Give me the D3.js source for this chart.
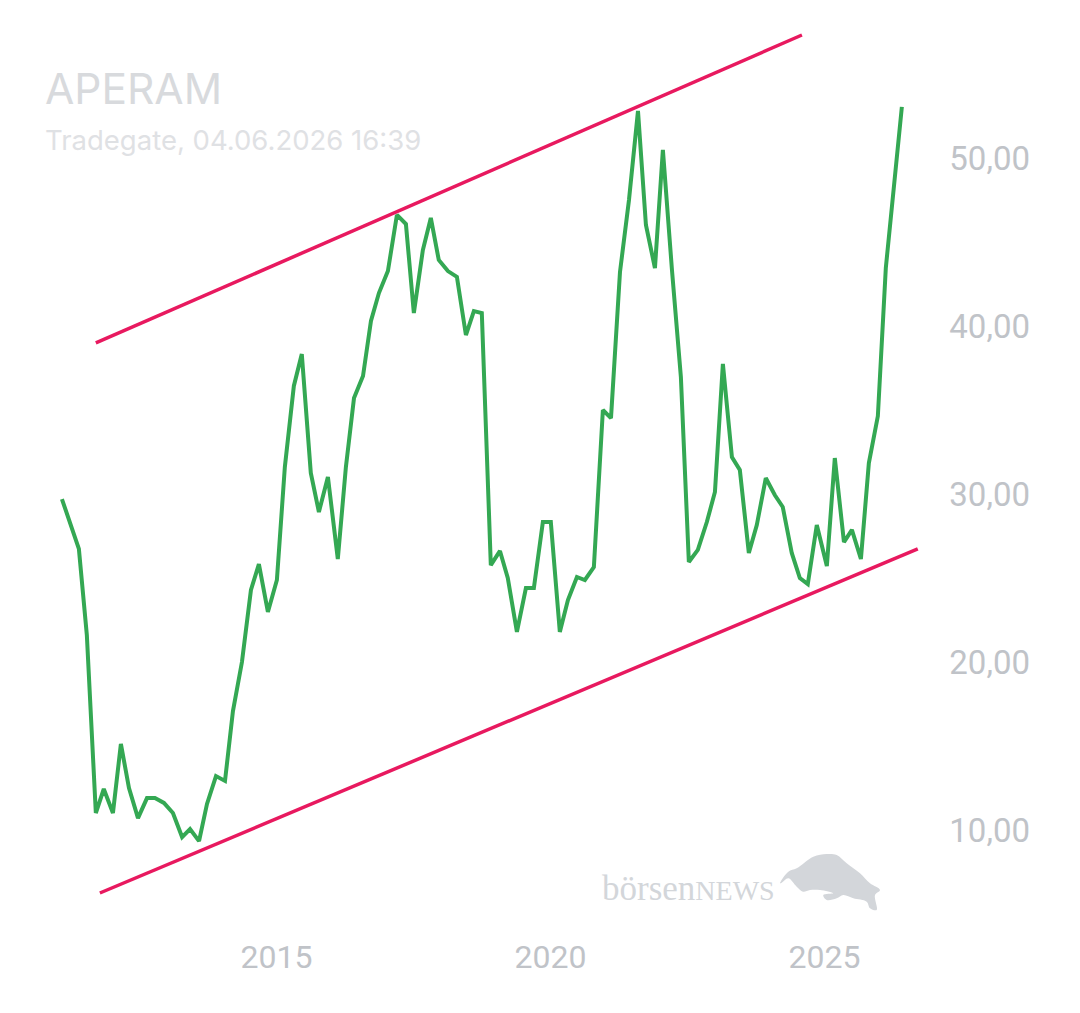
<!DOCTYPE html>
<html>
<head>
<meta charset="utf-8">
<script src="https://cdn.jsdelivr.net/npm/d3@7"></script>
<style>
  html, body { margin: 0; padding: 0; background: #ffffff; }
  svg { display: block; }
</style>
</head>
<body>
<svg id="chart" width="1080" height="1013"></svg>
<script>
// ---- data ----
const title = "APERAM";
const subtitle = "Tradegate, 04.06.2026 16:39";

const dates = [
  "2011-02-04","2011-05-28","2011-07-20","2011-09-18","2011-11-10","2012-01-10","2012-03-03","2012-04-26",
  "2012-06-25","2012-08-24","2012-10-16","2012-12-15","2013-02-13","2013-04-15","2013-06-07","2013-08-06",
  "2013-09-28","2013-11-27","2014-01-26","2014-03-20","2014-05-19","2014-07-18","2014-09-09","2014-11-08",
  "2015-01-07","2015-03-01","2015-04-30","2015-06-22","2015-08-21","2015-10-14","2015-12-13","2016-02-17",
  "2016-04-11","2016-06-04","2016-08-03","2016-09-25","2016-11-17","2017-01-16","2017-03-17","2017-05-16",
  "2017-07-08","2017-09-06","2017-10-29","2017-12-21","2018-02-20","2018-04-21","2018-06-20","2018-08-12",
  "2018-10-04","2018-12-03","2019-02-02","2019-03-26","2019-05-26","2019-07-25","2019-09-16","2019-11-15",
  "2020-01-07","2020-03-07","2020-04-30","2020-06-29","2020-08-21","2020-10-20","2020-12-19","2021-02-11",
  "2021-04-12","2021-06-11","2021-08-10","2021-10-02","2021-12-01","2022-01-23","2022-03-24","2022-05-23",
  "2022-07-15","2022-09-13","2022-11-12","2023-01-05","2023-02-27","2023-04-28","2023-06-20","2023-08-19",
  "2023-10-11","2023-12-10","2024-02-08","2024-04-01","2024-05-31","2024-07-24","2024-09-15","2024-11-14",
  "2025-01-20","2025-03-14","2025-05-14","2025-07-06","2025-09-04","2025-10-27","2025-12-26","2026-02-17",
  "2026-06-04"
];
const prices = [
  29.76,26.79,21.67,11.07,12.50,11.07,15.18,12.56,
  10.77,11.96,11.96,11.67,11.07,9.64,10.12,9.40,
  11.61,13.27,12.98,17.14,20.06,24.35,25.89,23.04,
  24.94,31.67,36.49,38.39,31.31,28.99,31.07,26.19,
  31.67,35.77,37.08,40.36,42.02,43.33,46.67,46.13,
  40.83,44.58,46.49,43.99,43.33,42.98,39.52,40.95,
  40.83,25.83,26.67,25.06,21.85,24.46,24.46,28.39,
  28.39,21.85,23.75,25.12,24.94,25.71,35.06,34.58,
  43.27,47.56,52.86,46.07,43.51,50.54,43.45,37.02,
  26.01,26.73,28.39,30.18,37.80,32.26,31.49,26.55,
  28.21,31.01,30.00,29.29,26.55,25.06,24.70,28.21,
  25.77,32.20,27.20,27.92,26.19,31.90,34.70,43.51,
  53.10
];

// trend channel lines: [start, end]
const upperTrendDates = ["2011-09-18", "2024-08-07"];
const upperTrendValues = [39.05, 57.38];
const lowerTrendDates = ["2011-10-15", "2026-09-18"];
const lowerTrendValues = [6.31, 26.79];

const yTicks = [10, 20, 30, 40, 50];
const xTickYears = ["2015", "2020", "2025"];

// ---- drawing ----
const parse = d3.timeParse("%Y-%m-%d");
const series = dates.map((d, i) => ({ date: parse(d), value: prices[i] }));
const upper = upperTrendDates.map((d, i) => ({ date: parse(d), value: upperTrendValues[i] }));
const lower = lowerTrendDates.map((d, i) => ({ date: parse(d), value: lowerTrendValues[i] }));

const svg = d3.select("#chart");

const x = d3.scaleTime()
  .domain([new Date(2015, 0, 1), new Date(2025, 0, 1)])
  .range([276, 824]);
const y = d3.scaleLinear()
  .domain([10, 50])
  .range([831, 159]);

const axisColor = "#c0c3c8";
const de = d3.formatLocale({ decimal: ",", thousands: ".", grouping: [3], currency: ["", "€"] });

// title
svg.append("text")
  .attr("x", 45).attr("y", 103.5)
  .attr("font-family", "Inter, 'Noto Sans', sans-serif")
  .attr("font-size", 42.5)
  .attr("fill", "#d8dadd")
  .text(title);
svg.append("text")
  .attr("x", 45).attr("y", 150)
  .attr("font-family", "Inter, 'Noto Sans', sans-serif")
  .attr("font-size", 27.5)
  .attr("fill", "#dfe1e4")
  .text(subtitle);

// y axis (right)
const yAxis = d3.axisRight(y)
  .tickValues(yTicks)
  .tickSize(0)
  .tickPadding(0)
  .tickFormat(de.format(".2f"));
const gy = svg.append("g").attr("transform", "translate(1030,0)").call(yAxis);
gy.select(".domain").remove();
gy.selectAll("text")
  .attr("text-anchor", "end")
  .attr("font-family", "Roboto, sans-serif")
  .attr("font-size", 33)
  .attr("fill", axisColor);

// x axis (bottom)
const xAxis = d3.axisBottom(x)
  .tickValues(xTickYears.map(s => new Date(+s, 0, 1)))
  .tickSize(0)
  .tickPadding(0)
  .tickFormat(d3.timeFormat("%Y"));
const gx = svg.append("g").attr("transform", "translate(0,945.5)").call(xAxis);
gx.select(".domain").remove();
gx.selectAll("text")
  .attr("font-family", "Roboto, sans-serif")
  .attr("font-size", 32)
  .attr("fill", axisColor);

// watermark
const wm = svg.append("g").attr("fill", "#d3d6da");
const wmText = wm.append("text")
  .attr("x", 602).attr("y", 900)
  .attr("font-family", "'Liberation Serif', 'DejaVu Serif', serif")
  .attr("fill", "#d3d6da");
wmText.append("tspan").attr("font-size", 35).text("börsen");
wmText.append("tspan").attr("font-size", 28).text("NEWS");
const bull = [
  [780,883.3],[788.3,871.7],[796.7,868.3],[813.3,856.7],[826.7,854],[836.7,855],
  [846.7,863.3],[860,873.3],[870,883.3],[880,890],[875,895],[876.7,910],[870,908.3],
  [866.7,901.7],[853.3,898.3],[843.3,895],[836.7,898.3],[826.7,900],[823.3,895],
  [833.3,893.3],[820,890],[810,890],[803,891.7],[796.7,886.7],[788.3,878.3],[781.7,882.7]
];
wm.append("path")
  .attr("d", d3.line().curve(d3.curveCatmullRomClosed.alpha(0.5))(bull))
  .attr("fill", "#d3d6da");

// trend lines
const line = d3.line().x(d => x(d.date)).y(d => y(d.value));
[upper, lower].forEach(t => {
  svg.append("path")
    .datum(t)
    .attr("d", line)
    .attr("fill", "none")
    .attr("stroke", "#e8195f")
    .attr("stroke-width", 3.5)
    .attr("stroke-linecap", "butt");
});

// price line
svg.append("path")
  .datum(series)
  .attr("d", line)
  .attr("fill", "none")
  .attr("stroke", "#34a853")
  .attr("stroke-width", 4)
  .attr("stroke-linejoin", "miter")
  .attr("stroke-miterlimit", 2);
</script>
</body>
</html>
